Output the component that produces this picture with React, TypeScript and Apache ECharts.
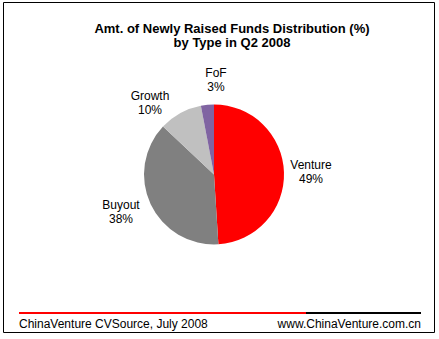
import React, { useEffect, useRef } from "react";
import * as echarts from "echarts";

const categories = ["Venture", "Buyout", "Growth", "FoF"];
const values = [49, 38, 10, 3];
const colors = ["#FF0000", "#808080", "#C0C0C0", "#8064A2"];
const titleText = "Amt. of Newly Raised Funds Distribution (%)\nby Type in Q2 2008";
const sourceText = "ChinaVenture CVSource, July 2008";
const siteText = "www.ChinaVenture.com.cn";

// label anchor positions (centre of each label block)
const LABEL_POS: [number, number][] = [
  [311, 172],
  [121, 212],
  [150, 103],
  [216, 80],
];

const FONT = "'Liberation Sans', Arial, sans-serif";

export default function App() {
  const ref = useRef<HTMLDivElement>(null);
  useEffect(() => {
    if (!ref.current) return;
    const chart = echarts.init(ref.current, undefined, { renderer: "svg" });
    chart.setOption({
      animation: false,
      backgroundColor: "#ffffff",
      title: {
        text: titleText,
        left: 227,
        textAlign: "center",
        top: 16,
        textStyle: {
          fontFamily: FONT,
          fontSize: 13,
          fontWeight: "bold",
          color: "#000",
          lineHeight: 14,
        },
      },
      graphic: [
        {
          type: "rect",
          shape: { x: 3.5, y: 2.5, width: 431, height: 330 },
          style: { fill: "none", stroke: "#000", lineWidth: 1 },
        },
        {
          type: "line",
          shape: { x1: 19, y1: 313, x2: 306, y2: 313 },
          style: { stroke: "#FF0000", lineWidth: 2 },
        },
        {
          type: "line",
          shape: { x1: 306, y1: 313, x2: 421, y2: 313 },
          style: { stroke: "#000000", lineWidth: 2 },
        },
        {
          type: "text",
          x: 19,
          y: 324,
          style: {
            text: sourceText,
            font: `12px ${FONT}`,
            fill: "#000",
            textAlign: "left",
            textVerticalAlign: "middle",
          },
        },
        {
          type: "text",
          x: 421,
          y: 324,
          style: {
            text: siteText,
            font: `12px ${FONT}`,
            fill: "#000",
            textAlign: "right",
            textVerticalAlign: "middle",
          },
        },
      ],
      series: [
        {
          type: "pie",
          center: [214, 174.5],
          radius: [0, 70],
          startAngle: 90,
          clockwise: true,
          data: categories.map((c, i) => ({
            name: c,
            value: values[i],
            itemStyle: { color: colors[i] },
          })),
          label: {
            show: true,
            position: "outside",
            formatter: (p: any) => `${p.name}\n${p.value}%`,
            fontFamily: FONT,
            fontSize: 12,
            color: "#000",
            lineHeight: 14,
            align: "center",
          },
          labelLine: { show: false },
          labelLayout: (p: any) => ({
            x: LABEL_POS[p.dataIndex][0],
            y: LABEL_POS[p.dataIndex][1],
            align: "center",
            verticalAlign: "middle",
          }),
          emphasis: { disabled: true },
        },
      ],
    });
    return () => chart.dispose();
  }, []);
  return (
    <div
      ref={ref}
      style={{ position: "absolute", left: 0, top: 0, width: 439, height: 339 }}
    />
  );
}
